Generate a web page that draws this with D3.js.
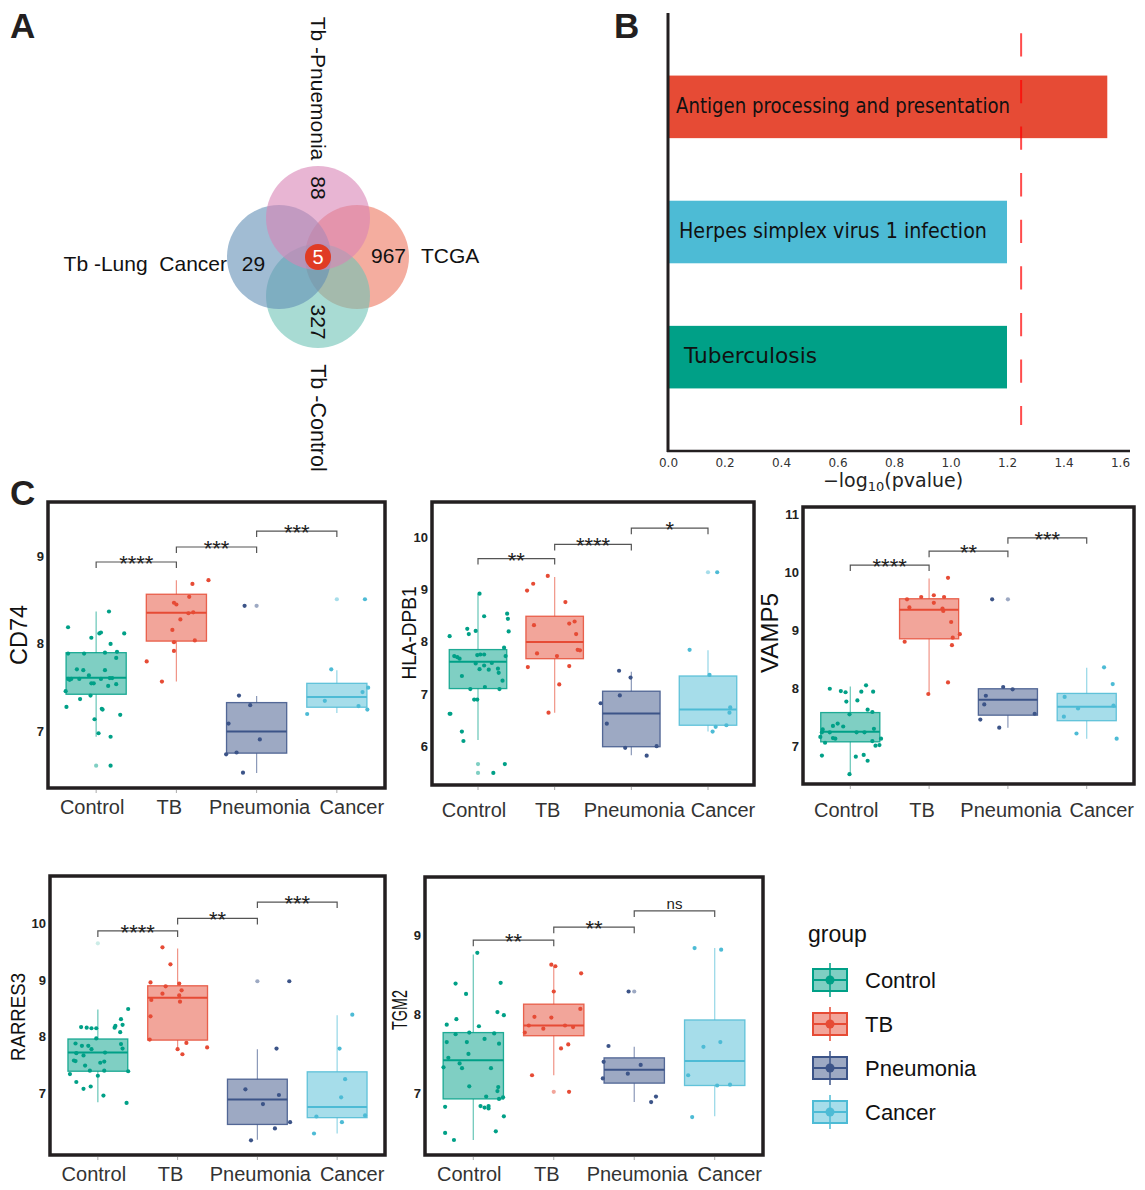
<!DOCTYPE html>
<html><head><meta charset="utf-8">
<script src="https://cdn.jsdelivr.net/npm/d3@7"></script>
<style>body{margin:0;background:#fff}svg{display:block}</style>
</head><body>
<svg id="fig" width="1145" height="1190"></svg>
<script>
// ---------------- DATA ----------------
// Panel A (Venn)
const vennSets = ["Tb -Pnuemonia", "Tb -Lung  Cancer", "TCGA", "Tb -Control"];
const vennUnique = [88, 29, 967, 327];
const vennShared = 5;

// Panel B (enrichment)
const pathways = ["Antigen processing and presentation", "Herpes simplex virus 1 infection", "Tuberculosis"];
const pathwayScores = [1.555, 1.20, 1.20];
const pathwayThreshold = 1.25;
const bTicks = [0, 0.2, 0.4, 0.6, 0.8, 1.0, 1.2, 1.4, 1.6];

// Panel C (box plots)
const groups = ["Control", "TB", "Pneumonia", "Cancer"];
const comparisons = [["Control", "TB"], ["TB", "Pneumonia"], ["Pneumonia", "Cancer"]];
const genes = ["CD74", "HLA-DPB1", "VAMP5", "RARRES3", "TGM2"];

// CD74
const cd74Domain = [6.355, 9.62];
const cd74Ticks = [7, 8, 9];
const cd74Box = [[6.94, 7.425, 7.615, 7.90, 8.37], [7.57, 8.032, 8.355, 8.567, 8.727], [6.526, 6.753, 7.0, 7.33, 7.406], [7.21, 7.277, 7.395, 7.55, 7.70]];
const cd74Outliers = [[0, 6.61], [2, 8.435], [3, 8.51]];
const cd74Sig = ["****", "***", "***"];
const cd74BracketY = [8.935, 9.106, 9.288];
const cd74Control = [[-0.35,8.19],[0.16,8.37],[-0.06,8.07],[0.04,8.12],[0.06,8.13],[0.35,8.12],[0.18,8.00],[-0.35,7.89],[-0.15,7.89],[0.11,7.90],[0.26,7.91],[0.25,7.84],[-0.24,7.71],[-0.16,7.70],[-0.35,7.60],[-0.31,7.60],[-0.21,7.60],[-0.09,7.64],[0.11,7.70],[-0.33,7.59],[-0.03,7.55],[0.06,7.60],[0.17,7.61],[0.20,7.61],[-0.38,7.46],[-0.06,7.55],[0.15,7.52],[0.25,7.54],[-0.20,7.37],[-0.07,7.41],[-0.37,7.28],[0.07,7.26],[0.08,7.25],[0.30,7.19],[-0.02,7.14],[0.03,6.98],[0.18,6.94],[0.18,6.61]];
const cd74TB = [[0.20,8.685],[0.40,8.727],[0.16,8.537],[-0.03,8.47],[0.0,8.45],[0.05,8.28],[0.15,8.35],[0.21,8.36],[-0.05,8.16],[-0.03,8.02],[0.23,8.04],[-0.03,7.92],[-0.37,7.80],[-0.18,7.57]];
const cd74Pneumonia = [[-0.15,8.435],[-0.22,7.41],[-0.08,7.30],[-0.35,7.09],[0.04,6.91],[-0.38,6.74],[-0.25,6.76],[-0.17,6.53]];
const cd74Cancer = [[0.35,8.51],[-0.07,7.71],[0.39,7.50],[0.32,7.45],[-0.15,7.35],[0.27,7.29],[-0.37,7.20],[0.38,7.25]];

// HLA-DPB1
const hlaDomain = [5.27, 10.67];
const hlaTicks = [6, 7, 8, 9, 10];
const hlaBox = [[6.13, 7.11, 7.62, 7.854, 8.92], [6.65, 7.68, 8.0, 8.49, 9.24], [5.84, 6.0, 6.635, 7.06, 7.43], [6.29, 6.41, 6.71, 7.35, 7.84]];
const hlaOutliers = [[0, 5.67], [0, 5.50], [3, 9.33]];
const hlaSig = ["**", "****", "*"];
const hlaBracketY = [9.59, 9.86, 10.17];
const hlaControl = [[0.02,8.92],[0.08,8.49],[0.38,8.54],[0.39,8.44],[0.40,8.20],[-0.37,8.11],[-0.14,8.25],[-0.12,8.15],[-0.03,8.21],[0.34,7.89],[-0.31,7.73],[-0.27,7.71],[-0.24,7.68],[-0.01,7.75],[0.03,7.76],[0.08,7.76],[0.36,7.73],[-0.03,7.59],[0.08,7.55],[0.18,7.60],[0.02,7.48],[0.14,7.47],[0.26,7.49],[0.27,7.41],[-0.21,7.35],[0.32,7.26],[-0.10,7.10],[0.09,7.14],[0.28,7.10],[-0.05,6.90],[-0.01,6.90],[-0.37,6.63],[-0.36,6.63],[-0.21,6.29],[-0.19,6.11],[0.20,5.50],[0.35,5.67]];
const hlaTB = [[-0.09,9.26],[-0.36,8.98],[-0.28,9.11],[0.14,8.76],[-0.27,8.32],[0.19,8.35],[0.26,8.39],[0.28,8.15],[0.30,7.85],[0.33,7.84],[-0.23,7.78],[0.03,7.73],[-0.35,7.52],[0.19,7.54],[0.06,7.19],[-0.08,6.65]];
const hlaPneumonia = [[-0.16,7.45],[-0.01,7.32],[-0.15,6.98],[-0.40,6.83],[-0.32,6.44],[-0.08,5.98],[0.33,6.01],[0.20,5.83]];
const hlaCancer = [[0.12,9.33],[-0.24,7.85],[0.02,7.37],[0.29,6.75],[0.28,6.65],[0.24,6.41],[0.10,6.38],[0.06,6.29]];

// VAMP5
const vampDomain = [6.36, 11.13];
const vampTicks = [7, 8, 9, 10, 11];
const vampBox = [[6.53, 7.086, 7.26, 7.59, 8.04], [7.92, 8.86, 9.36, 9.55, 9.90], [7.33, 7.545, 7.81, 8.0, 8.0], [7.14, 7.45, 7.69, 7.92, 8.36]];
const vampOutliers = [[2, 9.54]];
const vampSig = ["****", "**", "***"];
const vampBracketY = [10.13, 10.37, 10.60];
const vampControl = [[-0.26,8.00],[-0.12,7.96],[-0.06,7.94],[-0.05,7.78],[0.09,7.80],[0.14,7.95],[0.20,8.06],[0.29,7.95],[0.22,7.64],[0.28,7.60],[-0.01,7.56],[-0.16,7.40],[-0.22,7.36],[-0.09,7.35],[-0.35,7.30],[-0.36,7.25],[-0.26,7.25],[0.08,7.25],[0.18,7.25],[0.30,7.31],[-0.38,7.17],[-0.22,7.15],[-0.19,7.14],[0.39,7.14],[-0.32,7.07],[0.28,7.10],[0.32,7.02],[0.37,7.03],[-0.36,6.85],[0.07,6.83],[0.17,6.86],[0.22,6.76],[-0.01,6.53]];
const vampTB = [[0.24,9.91],[-0.28,9.54],[-0.10,9.58],[0.06,9.61],[0.19,9.58],[-0.25,9.40],[0.06,9.48],[0.17,9.38],[0.18,9.34],[0.28,9.15],[0.39,8.94],[0.30,8.88],[-0.31,8.81],[0.29,8.75],[0.24,8.11],[-0.01,7.91]];
const vampPneumonia = [[-0.20,9.54],[-0.06,8.03],[0.06,7.99],[-0.28,7.88],[-0.30,7.73],[0.34,7.57],[-0.35,7.47],[-0.11,7.33]];
const vampCancer = [[0.22,8.37],[0.33,8.08],[-0.28,7.86],[-0.11,7.66],[0.34,7.71],[-0.29,7.52],[-0.13,7.23],[0.38,7.14]];

// RARRES3
const rarDomain = [5.91, 10.84];
const rarTicks = [7, 8, 9, 10];
const rarBox = [[6.84, 7.39, 7.72, 7.96, 8.48], [7.75, 7.94, 8.69, 8.90, 9.56], [6.18, 6.45, 6.89, 7.25, 7.78], [6.29, 6.57, 6.76, 7.38, 8.38]];
const rarOutliers = [[0, 9.65], [2, 8.98]];
const rarSig = ["****", "**", "***"];
const rarBracketY = [9.87, 10.09, 10.38];
const rarControl = [[0.38,8.49],[0.29,8.31],[0.31,8.21],[-0.21,8.17],[-0.14,8.16],[-0.08,8.15],[-0.02,8.15],[0.21,8.16],[0.22,8.19],[0.28,8.08],[-0.02,7.97],[-0.28,7.88],[-0.20,7.84],[-0.12,7.84],[-0.08,7.78],[0.29,7.87],[0.31,7.79],[-0.27,7.71],[-0.18,7.67],[0.09,7.72],[-0.30,7.58],[-0.28,7.57],[0.08,7.56],[0.03,7.54],[-0.16,7.49],[-0.10,7.40],[0.08,7.40],[0.38,7.39],[0.0,7.31],[-0.35,7.34],[-0.27,7.20],[-0.18,7.08],[-0.09,7.12],[0.07,6.96],[0.36,6.83]];
const rarTB = [[-0.19,9.58],[-0.09,9.28],[-0.34,8.96],[-0.15,8.89],[0.02,8.94],[-0.19,8.76],[0.02,8.73],[0.05,8.82],[-0.33,8.65],[0.03,8.62],[-0.34,8.36],[-0.35,7.95],[0.11,7.89],[0.37,7.81],[0.0,7.78],[0.06,7.69]];
const rarPneumonia = [[0.40,8.98],[0.24,7.79],[-0.15,7.07],[0.27,6.97],[0.07,6.81],[0.41,6.49],[0.22,6.38],[-0.08,6.17]];
const rarCancer = [[0.19,8.39],[0.03,7.79],[0.10,7.25],[0.05,6.93],[0.35,6.61],[-0.26,6.59],[0.06,6.49],[-0.29,6.29]];

// TGM2
const tgmDomain = [6.22, 9.74];
const tgmTicks = [7, 8, 9];
const tgmBox = [[6.41, 6.93, 7.42, 7.77, 8.76], [7.23, 7.73, 7.86, 8.13, 8.60], [6.89, 7.13, 7.30, 7.45, 7.59], [6.71, 7.10, 7.41, 7.93, 8.84]];
const tgmOutliers = [[1, 7.02], [2, 8.29]];
const tgmSig = ["**", "**", "ns"];
const tgmBracketY = [8.94, 9.105, 9.31];
const tgmControl = [[0.05,8.78],[-0.22,8.39],[0.34,8.40],[-0.09,8.26],[-0.21,7.94],[0.30,8.03],[0.38,7.99],[-0.33,7.87],[0.07,7.85],[-0.22,7.75],[-0.05,7.77],[0.26,7.76],[-0.33,7.65],[-0.08,7.65],[0.14,7.69],[0.32,7.63],[-0.06,7.50],[-0.31,7.45],[-0.17,7.38],[-0.14,7.32],[-0.37,7.33],[0.22,7.32],[-0.05,7.09],[0.31,7.08],[0.30,7.03],[0.16,6.96],[0.37,6.95],[0.32,6.93],[-0.35,6.83],[0.09,6.84],[0.14,6.82],[0.19,6.84],[0.19,6.81],[0.38,6.71],[-0.35,6.50],[0.28,6.52],[-0.24,6.41]];
const tgmTB = [[-0.03,8.63],[0.02,8.61],[0.34,8.52],[0.0,8.29],[0.33,8.07],[-0.24,7.97],[-0.03,7.96],[-0.31,7.86],[-0.13,7.82],[0.14,7.86],[0.24,7.84],[-0.36,7.77],[0.18,7.62],[0.09,7.57],[-0.27,7.23],[0.19,7.02]];
const tgmPneumonia = [[-0.07,8.29],[-0.32,7.60],[-0.38,7.40],[0.08,7.36],[-0.08,7.25],[-0.39,7.19],[0.27,6.96],[0.21,6.89]];
const tgmCancer = [[-0.25,8.84],[0.08,8.82],[-0.14,7.59],[0.07,7.65],[-0.33,7.23],[0.03,7.10],[0.19,7.11],[-0.28,6.70]];

// ---------------- STYLE / LAYOUT ----------------
const groupColors = ["#00A087", "#E64B35", "#3C5488", "#4DBBD5"];
const vennColors = ["#d984b6", "#628fb6", "#ed765f", "#6ec3b6"];
const pathwayColors = ["#E64B35", "#4DBBD5", "#00A087"];
const SANS = "'Liberation Sans', Arial, Helvetica, sans-serif";
const DJV = "'DejaVu Sans', sans-serif";

const svg = d3.select("#fig");

// panel letters
[["A", 10, 38], ["B", 614, 38], ["C", 10, 505]].forEach(([t, x, y]) => {
  svg.append("text").attr("x", x).attr("y", y).text(t)
    .attr("font-family", SANS).attr("font-weight", "bold").attr("font-size", 35).attr("fill", "#231f20");
});

// ---------------- PANEL A ----------------
(function () {
  const cx = 318, cy = 257, off = 39, r = 52;
  const centers = [[cx, cy - off], [cx - off, cy], [cx + off, cy], [cx, cy + off]];
  const order = [2, 3, 1, 0]; // red, green, blue, pink
  const gA = svg.append("g");
  order.forEach(i => {
    gA.append("circle").attr("cx", centers[i][0]).attr("cy", centers[i][1]).attr("r", r)
      .attr("fill", vennColors[i]).attr("fill-opacity", 0.6);
  });
  const fs = 21;
  const txt = (t, x, y, anchor, rot) => {
    const el = gA.append("text").text(t).attr("font-family", SANS).attr("font-size", fs)
      .attr("fill", "#111").attr("text-anchor", anchor).style("white-space", "pre");
    if (rot) el.attr("transform", `translate(${x},${y}) rotate(90)`).attr("dominant-baseline", "central");
    else el.attr("x", x).attr("y", y);
    return el;
  };
  txt(String(vennUnique[0]), cx, 188, "middle", true);
  txt(String(vennUnique[1]), 253.5, 271, "middle", false);
  txt(String(vennUnique[2]), 371, 263, "start", false);
  txt(String(vennUnique[3]), cx, 322, "middle", true);
  txt(vennSets[0], cx, 88.5, "middle", true);
  txt(vennSets[1], 227, 271, "end", false);
  txt(vennSets[2], 421, 263, "start", false);
  txt(vennSets[3], cx, 418, "middle", true).attr("font-size", 21.5);
  gA.append("circle").attr("cx", cx).attr("cy", cy).attr("r", 13).attr("fill", "#e03b24");
  gA.append("text").attr("x", cx).attr("y", cy).attr("dy", "0.36em").attr("text-anchor", "middle")
    .attr("font-family", SANS).attr("font-size", 20).attr("fill", "#fff").text(vennShared);
})();

// ---------------- PANEL B ----------------
(function () {
  const L = 668, R = 1130, T = 13, B = 451;
  const x = d3.scaleLinear().domain([0, 1.6354]).range([L, R]);
  const y = d3.scaleBand().domain(pathways).range([T, B]).paddingInner(0.5).paddingOuter(0.5);
  const g = svg.append("g");
  const textLens = [334, 308, 133];
  const textX = [676, 679, 684];
  pathways.forEach((p, i) => {
    g.append("rect").attr("x", x(0)).attr("y", y(p)).attr("width", x(pathwayScores[i]) - x(0))
      .attr("height", y.bandwidth()).attr("fill", pathwayColors[i]);
  });
  g.append("line").attr("x1", x(pathwayThreshold)).attr("x2", x(pathwayThreshold)).attr("y1", 33.3).attr("y2", 425)
    .attr("stroke", "red").attr("stroke-opacity", 0.7).attr("stroke-width", 2).attr("stroke-dasharray", "23.3 23.3");
  pathways.forEach((p, i) => {
    g.append("text").attr("x", textX[i]).attr("y", y(p) + y.bandwidth() / 2 + 6).text(p)
      .attr("font-family", DJV).attr("font-size", 21).attr("fill", "#111")
      .attr("textLength", textLens[i]).attr("lengthAdjust", "spacingAndGlyphs");
  });
  g.append("line").attr("x1", L).attr("x2", L).attr("y1", T).attr("y2", B + 1).attr("stroke", "#231f20").attr("stroke-width", 3);
  g.append("line").attr("x1", L - 1).attr("x2", R).attr("y1", B).attr("y2", B).attr("stroke", "#231f20").attr("stroke-width", 2.5);
  const ax = g.append("g").attr("transform", `translate(0,${B})`)
    .call(d3.axisBottom(x).tickValues(bTicks).tickSize(0).tickPadding(7).tickFormat(d3.format(".1f")));
  ax.select(".domain").remove();
  ax.selectAll("text").attr("font-family", DJV).attr("font-size", 12).attr("fill", "#333");
  const t = g.append("text").attr("x", 893).attr("y", 487).attr("text-anchor", "middle")
    .attr("font-family", DJV).attr("font-size", 19).attr("fill", "#222");
  t.append("tspan").text("\u2212log");
  t.append("tspan").text("10").attr("font-size", 13).attr("dy", 4);
  t.append("tspan").text("(pvalue)").attr("dy", -4);
})();

// ---------------- PANEL C ----------------
const panels = [
  { gene: genes[0], domain: cd74Domain, ticks: cd74Ticks, box: cd74Box, outliers: cd74Outliers, sig: cd74Sig, brackets: cd74BracketY,
    points: [cd74Control, cd74TB, cd74Pneumonia, cd74Cancer],
    frame: [48, 502, 385, 788], title: [19, 635, 23, 60], labelY: 814 },
  { gene: genes[1], domain: hlaDomain, ticks: hlaTicks, box: hlaBox, outliers: hlaOutliers, sig: hlaSig, brackets: hlaBracketY,
    points: [hlaControl, hlaTB, hlaPneumonia, hlaCancer],
    frame: [432, 502, 754, 785], title: [408, 633, 21, 93], labelY: 817 },
  { gene: genes[2], domain: vampDomain, ticks: vampTicks, box: vampBox, outliers: vampOutliers, sig: vampSig, brackets: vampBracketY,
    points: [vampControl, vampTB, vampPneumonia, vampCancer],
    frame: [803, 507, 1134, 784], title: [770, 633, 23, 80], labelY: 817 },
  { gene: genes[3], domain: rarDomain, ticks: rarTicks, box: rarBox, outliers: rarOutliers, sig: rarSig, brackets: rarBracketY,
    points: [rarControl, rarTB, rarPneumonia, rarCancer],
    frame: [50, 876, 385, 1155], title: [17, 1017, 21, 88], labelY: 1181 },
  { gene: genes[4], domain: tgmDomain, ticks: tgmTicks, box: tgmBox, outliers: tgmOutliers, sig: tgmSig, brackets: tgmBracketY,
    points: [tgmControl, tgmTB, tgmPneumonia, tgmCancer],
    frame: [425, 877, 763, 1155], title: [399.5, 1010, 22, 40], labelY: 1181 }
];
const labelShift = [-4, -7, 3, 15];

panels.forEach(p => {
  const [L, T, R, B] = p.frame;
  const x = d3.scalePoint().domain(groups).range([L, R]).padding(0.6);
  const y = d3.scaleLinear().domain(p.domain).range([B, T]);
  const step = x.step(), bw = step * 0.75;
  const g = svg.append("g");
  p.box.forEach((s, i) => {
    const cx = x(groups[i]), c = groupColors[i];
    g.append("line").attr("x1", cx).attr("x2", cx).attr("y1", y(s[0])).attr("y2", y(s[1]))
      .attr("stroke", c).attr("stroke-opacity", 0.6).attr("stroke-width", 1.2);
    g.append("line").attr("x1", cx).attr("x2", cx).attr("y1", y(s[3])).attr("y2", y(s[4]))
      .attr("stroke", c).attr("stroke-opacity", 0.6).attr("stroke-width", 1.2);
    g.append("rect").attr("x", cx - bw / 2).attr("y", y(s[3])).attr("width", bw).attr("height", y(s[1]) - y(s[3]))
      .attr("fill", c).attr("fill-opacity", 0.5).attr("stroke", c).attr("stroke-opacity", 0.85).attr("stroke-width", 1.3);
    g.append("line").attr("x1", cx - bw / 2).attr("x2", cx + bw / 2).attr("y1", y(s[2])).attr("y2", y(s[2]))
      .attr("stroke", c).attr("stroke-width", 2);
  });
  p.outliers.forEach(([gi, v]) => {
    g.append("circle").attr("cx", x(groups[gi])).attr("cy", y(v)).attr("r", 2.1)
      .attr("fill", groupColors[gi]).attr("fill-opacity", gi === 0 && v > 9.5 ? 0.2 : 0.5);
  });
  p.points.forEach((arr, i) => {
    g.selectAll(null).data(arr).join("circle")
      .attr("cx", d => x(groups[i]) + d[0] * step).attr("cy", d => y(d[1])).attr("r", 2.1)
      .attr("fill", groupColors[i]);
  });
  g.append("rect").attr("x", L).attr("y", T).attr("width", R - L).attr("height", B - T)
    .attr("fill", "none").attr("stroke", "#231f20").attr("stroke-width", 3.5);
  groups.forEach(gr => {
    g.append("line").attr("x1", x(gr)).attr("x2", x(gr)).attr("y1", B + 2).attr("y2", B + 5)
      .attr("stroke", "#aaa").attr("stroke-width", 1);
  });
  p.ticks.forEach(t => {
    g.append("text").attr("x", L - 4).attr("y", y(t)).attr("dy", "0.35em").attr("text-anchor", "end")
      .attr("font-family", SANS).attr("font-weight", "bold").attr("font-size", 13).attr("fill", "#222").text(t);
  });
  groups.forEach((gr, i) => {
    g.append("text").attr("x", x(gr) + labelShift[i]).attr("y", p.labelY).attr("text-anchor", "middle")
      .attr("font-family", SANS).attr("font-size", 20).attr("fill", "#333").text(gr);
  });
  g.append("text").attr("transform", `translate(${p.title[0]},${p.title[1]}) rotate(-90)`)
    .attr("text-anchor", "middle").attr("dominant-baseline", "central")
    .attr("font-family", SANS).attr("font-size", p.title[2]).attr("fill", "#111")
    .attr("textLength", p.title[3]).attr("lengthAdjust", "spacingAndGlyphs").text(p.gene);
  comparisons.forEach(([a, b], k) => {
    const yy = y(p.brackets[k]);
    g.append("path").attr("d", `M${x(a)},${yy + 6}V${yy}H${x(b)}V${yy + 6}`)
      .attr("fill", "none").attr("stroke", "#555").attr("stroke-width", 1.2);
    const lab = p.sig[k];
    const isNs = lab === "ns";
    g.append("text").attr("x", (x(a) + x(b)) / 2).attr("y", isNs ? yy - 2 : yy + 9)
      .attr("text-anchor", "middle").attr("font-family", SANS).attr("font-size", isNs ? 15 : 22)
      .attr("fill", "#222").text(lab);
  });
});

// ---------------- LEGEND ----------------
(function () {
  const g = svg.append("g");
  g.append("text").attr("x", 808).attr("y", 942).text("group")
    .attr("font-family", SANS).attr("font-size", 23).attr("fill", "#111");
  const ly = d3.scalePoint().domain(groups).range([980, 1112]);
  groups.forEach((gr, i) => {
    const c = groupColors[i], cy = ly(gr);
    g.append("line").attr("x1", 830).attr("x2", 830).attr("y1", cy - 17).attr("y2", cy + 17)
      .attr("stroke", c).attr("stroke-width", 1.5);
    g.append("rect").attr("x", 813).attr("y", cy - 11).attr("width", 34).attr("height", 22)
      .attr("fill", c).attr("fill-opacity", 0.5).attr("stroke", c).attr("stroke-width", 2);
    g.append("line").attr("x1", 813).attr("x2", 847).attr("y1", cy).attr("y2", cy)
      .attr("stroke", c).attr("stroke-width", 2);
    g.append("circle").attr("cx", 830).attr("cy", cy).attr("r", 4.5).attr("fill", c);
    g.append("text").attr("x", 865).attr("y", cy + 8).text(gr)
      .attr("font-family", SANS).attr("font-size", 22).attr("fill", "#111");
  });
})();
</script>
</body></html>
